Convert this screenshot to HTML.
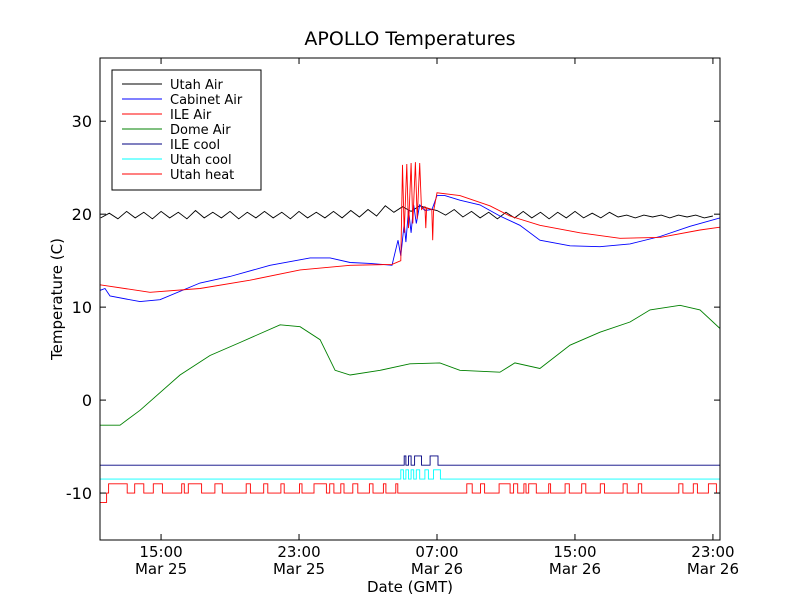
<!DOCTYPE html>
<html><head><meta charset="utf-8"><style>
body{margin:0;background:#fff;font-family:"Liberation Sans","DejaVu Sans",sans-serif}
svg text{font-family:"DejaVu Sans","Liberation Sans",sans-serif}
</style></head><body>
<svg id="c" width="800" height="600" xmlns="http://www.w3.org/2000/svg">
<rect width="800" height="600" fill="#fff"/>
<text x="410" y="45" font-size="19" text-anchor="middle">APOLLO Temperatures</text>
<text x="410" y="592" font-size="15" text-anchor="middle">Date (GMT)</text>
<text transform="translate(62,299) rotate(-90)" font-size="15" text-anchor="middle">Temperature (C)</text>
<g id="plot"></g>
</svg>
<script>
const yTicks=[30,20,10,0,-10];
const xTicks=[15,23,31,39,47];
const xTickLines1=["15:00","23:00","07:00","15:00","23:00"];
const xTickLines2=["Mar 25","Mar 25","Mar 26","Mar 26","Mar 26"];
const seriesNames=["Utah Air","Cabinet Air","ILE Air","Dome Air","ILE cool","Utah cool","Utah heat"];
const seriesColors=["#000","#00f","#f00","#008000","#000080","#0ff","#f00"];
const utahAirStart=11.5, utahAirStep=0.5;
const utahAirVals=[19.6,20.1,19.5,20.3,19.6,20.2,19.5,20.3,19.6,20.2,19.5,20.4,19.6,20.2,19.6,20.3,19.5,20.2,19.6,20.3,19.6,20.2,19.5,20.3,19.6,20.2,19.6,20.3,19.6,20.4,19.7,20.5,19.8,20.9,20.2,20.8,20.3,20.9,20.6,20.4,19.9,20.5,19.7,20.3,19.6,20.2,19.5,20.2,19.6,20.3,19.6,20.2,19.5,20.2,19.6,20.3,19.6,20.1,19.6,20.2,19.7,19.9,19.6,19.9,19.7,19.9,19.6,19.9,19.7,19.9,19.6,19.8];
const cabX=[11.46,11.75,12.04,13.78,14.94,17.26,19.0,21.32,23.64,24.8,25.96,27.12,28.39,28.74,28.9,29.1,29.2,29.35,29.5,29.65,29.8,30.0,30.3,30.71,31.0,31.46,32.33,33.49,34.65,35.81,36.97,38.71,40.45,42.19,43.93,45.67,47.41];
const cabY=[11.8,12.0,11.2,10.6,10.8,12.6,13.3,14.5,15.3,15.3,14.8,14.7,14.5,17.2,15.5,19,17,20.5,18,21,19,21,20.4,20.5,22.0,22.0,21.5,21.0,19.8,18.8,17.2,16.6,16.5,16.8,17.6,18.7,19.6];
const ileX=[11.46,14.36,17.26,20.16,23.06,25.96,28.39,28.9,29.0,29.1,29.25,29.35,29.5,29.6,29.75,29.85,30.0,30.1,30.3,30.35,30.4,30.7,30.75,30.8,31.0,32.33,34.07,35.23,36.97,39.29,41.61,43.93,46.25,47.41];
const ileY=[12.4,11.6,12.0,12.9,14.0,14.5,14.6,15,25.3,18,25.4,18.5,25.5,19,25.6,19.5,25.5,20.5,20.8,18.5,20.7,20.5,17.2,20.3,22.3,22.0,20.9,19.8,18.8,18.0,17.4,17.5,18.3,18.6];
const domeX=[11.46,12.62,13.78,16.1,17.84,19.58,21.9,23.06,24.22,25.09,25.96,27.7,29.43,31.17,32.33,34.65,35.52,36.97,38.71,40.45,42.19,43.35,45.09,46.25,47.41];
const domeY=[-2.7,-2.7,-1.1,2.7,4.8,6.2,8.1,7.9,6.5,3.2,2.7,3.2,3.9,4.0,3.2,3.0,4.0,3.4,5.9,7.3,8.4,9.7,10.2,9.7,7.7];
const ileCoolX=[11.46,29.1,29.1,29.2,29.2,29.35,29.35,29.5,29.5,29.7,29.7,30.1,30.1,30.6,30.6,31.06,31.06,47.41];
const ileCoolY=[-7,-7,-6,-6,-7,-7,-6,-6,-7,-7,-6,-6,-7,-7,-6,-6,-7,-7];
const utahCoolX=[11.46,28.9,28.9,29.05,29.05,29.2,29.2,29.35,29.35,29.5,29.5,29.65,29.65,29.8,29.8,30.0,30.0,30.3,30.3,30.5,30.5,30.8,30.8,31.2,31.2,47.41];
const utahCoolY=[-8.5,-8.5,-7.5,-7.5,-8.5,-8.5,-7.5,-7.5,-8.5,-8.5,-7.5,-7.5,-8.5,-8.5,-7.5,-7.5,-8.5,-8.5,-7.5,-7.5,-8.5,-8.5,-7.5,-7.5,-8.5,-8.5];
const heatOn=[11.96,13.04,13.47,14.0,14.55,15.08,16.2,16.35,16.58,17.35,18.12,18.55,19.94,20.18,20.95,21.19,21.95,22.14,23.03,23.17,23.87,24.59,24.78,25.02,25.42,25.61,26.12,26.41,27.08,27.29,27.89,28.04,28.61,28.73,32.73,33.04,33.52,33.76,34.6,35.24,35.44,35.68,36.04,36.16,36.32,36.76,37.48,37.59,38.43,38.67,39.39,39.63,40.47,40.71,41.79,42.03,42.67,42.87,45.02,45.26,45.86,46.1,46.74,47.2];

const L=100,R=720,T=58,B=540,xmin=11.46,xmax=47.41,ymin=-15.05,ymax=36.8;
const sx=h=>L+(h-xmin)/(xmax-xmin)*(R-L);
const sy=v=>B-(v-ymin)/(ymax-ymin)*(B-T);
const NS="http://www.w3.org/2000/svg";
const g=document.getElementById('plot');
function mk(t,a,p){const e=document.createElementNS(NS,t);for(const k in a)e.setAttribute(k,a[k]);(p||g).appendChild(e);return e;}
const clip=mk('clipPath',{id:'cp'});mk('rect',{x:L,y:T,width:R-L,height:B-T},clip);
const lines=mk('g',{'clip-path':'url(#cp)'});


function poly(xs,ys,col,name){const pts=xs.map((x,i)=>sx(x).toFixed(1)+','+sy(ys[i]).toFixed(1)).join(' ');
const e=mk('polyline',{points:pts,fill:'none',stroke:col,'stroke-width':0.9},lines);

}
// Utah heat
const hx=[xmin,11.84,11.84,11.96],hy=[-11,-11,-10,-10];
hy[3]=-10;
for(let i=0;i<heatOn.length;i+=2){hx.push(heatOn[i],heatOn[i],heatOn[i+1],heatOn[i+1]);hy.push(-10,-9,-9,-10);}
hx.push(xmax);hy.push(-10);
poly(hx,hy,seriesColors[6],'utah-heat-line');
poly(utahCoolX,utahCoolY,seriesColors[5],'utah-cool-line');
poly(ileCoolX,ileCoolY,seriesColors[4],'ile-cool-line');
poly(domeX,domeY,seriesColors[3],'dome-air-line');
poly(utahAirVals.map((v,i)=>utahAirStart+i*utahAirStep),utahAirVals,seriesColors[0],'utah-air-line');
poly(cabX,cabY,seriesColors[1],'cabinet-air-line');
poly(ileX,ileY,seriesColors[2],'ile-air-line');
// axes
const ax=mk('rect',{x:L,y:T,width:R-L,height:B-T,fill:'none',stroke:'#000','stroke-width':1});


yTicks.forEach(v=>{const y=sy(v);
mk('line',{x1:L,x2:L+6,y1:y,y2:y,stroke:'#000'});mk('line',{x1:R,x2:R-6,y1:y,y2:y,stroke:'#000'});
const t=mk('text',{x:L-8,y:y+6,'font-size':16,'text-anchor':'end'});t.textContent=v;

});
xTicks.forEach((h,i)=>{const x=sx(h);
mk('line',{x1:x,x2:x,y1:B,y2:B-6,stroke:'#000'});mk('line',{x1:x,x2:x,y1:T,y2:T+6,stroke:'#000'});
const t=mk('text',{x:x,y:557,'font-size':15,'text-anchor':'middle'});t.textContent=xTickLines1[i];


const t2=mk('text',{x:x,y:574,'font-size':15,'text-anchor':'middle'});t2.textContent=xTickLines2[i];

});
// legend
const lg=mk('g',{});


mk('rect',{x:112,y:70,width:149,height:120,fill:'#fff',stroke:'#000'},lg);
seriesNames.forEach((n,i)=>{const y=84+i*15;
const e=mk('g',{},lg);


mk('line',{x1:122,x2:162,y1:y,y2:y,stroke:seriesColors[i],'stroke-width':0.9},e);
const t=mk('text',{x:170,y:y+5,'font-size':13},e);t.textContent=n;});
</script>
</body></html>
